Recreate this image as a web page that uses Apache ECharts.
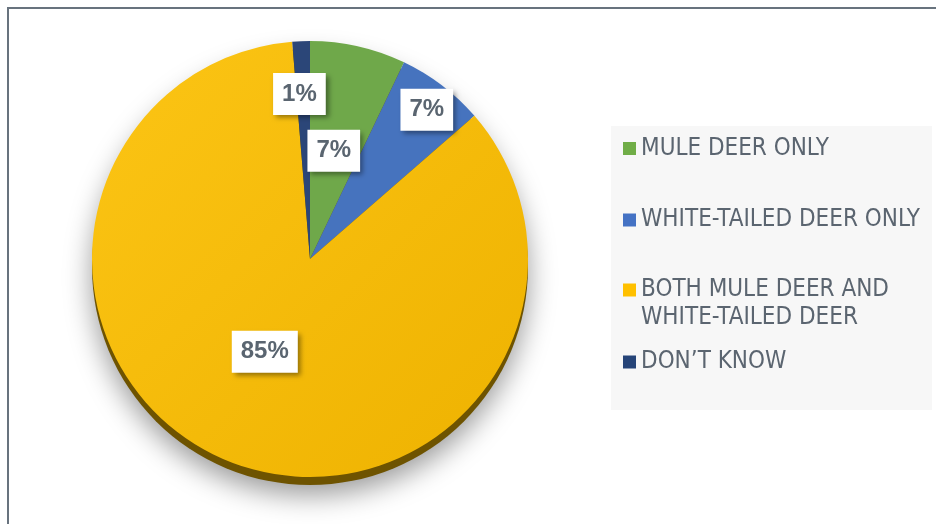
<!DOCTYPE html>
<html><head><meta charset="utf-8">
<script src="https://cdn.jsdelivr.net/npm/echarts@6/dist/echarts.min.js"></script>
<style>html,body{margin:0;padding:0;background:#fff}#c{width:936px;height:524px}</style>
</head><body><div id="c"></div>
<script>
// ---- data ----
const categories = ['MULE DEER ONLY', 'WHITE-TAILED DEER ONLY', 'BOTH MULE DEER AND\nWHITE-TAILED DEER', 'DON\u2019T KNOW'];
const values = [7.1, 6.5, 85.1, 1.3];

// ---- styles / layout ----
const legendColors = ['#70ad47', '#4472c4', '#ffc000', '#264478'];
const labelOffsets = [[-1, 1], [49, -60], [-3, -11], [-6, -53]];
const legendTops = [134.5, 206, 248, 348];
const CX = 310, CY = 259, R = 218;

const sliceColors = [
  '#6fa84a',
  '#4673be',
  new echarts.graphic.LinearGradient(0, 0, 1, 1, [
    { offset: 0, color: '#fcc515' }, { offset: 1, color: '#eeb200' }
  ]),
  '#2b4678'
];

const chart = echarts.init(document.getElementById('c'), null, { renderer: 'canvas' });

const legendText = {
  fontFamily: '"DejaVu Sans Condensed", "DejaVu Sans", sans-serif',
  fontSize: 24,
  lineHeight: 28,
  color: '#5b6570'
};

chart.setOption({
  animation: false,
  backgroundColor: '#ffffff',
  graphic: [
    { type: 'rect', silent: true, z: -1, shape: { x: 611, y: 126, width: 321, height: 284 }, style: { fill: '#f7f7f7' } },
    { type: 'polyline', silent: true, shape: { points: [[8, 524], [8, 8], [936, 8]] }, style: { stroke: '#68737e', lineWidth: 2, fill: null } }
  ],
  legend: categories.map((c, i) => ({
    data: [{ name: c, itemStyle: { color: legendColors[i] } }],
    left: 623,
    top: legendTops[i],
    padding: 0,
    orient: 'vertical',
    icon: 'rect',
    itemWidth: 13,
    itemHeight: 13,
    selectedMode: false,
    formatter: name => (name.indexOf('\n') >= 0 ? '\n' + name : name),
    textStyle: legendText
  })),
  series: [
    {
      type: 'pie',
      name: 'rim',
      silent: true,
      center: [CX, CY + 8],
      radius: R,
      startAngle: 90,
      z: 1,
      label: { show: false },
      labelLine: { show: false },
      data: [{
        value: 1, name: '__rim',
        itemStyle: { color: '#6e5300', shadowBlur: 28, shadowColor: 'rgba(0,0,0,0.4)', shadowOffsetY: 10 }
      }]
    },
    {
      type: 'pie',
      name: 'deer',
      center: [CX, CY],
      radius: R,
      startAngle: 90,
      clockwise: true,
      z: 2,
      labelLine: { show: false },
      label: {
        show: true,
        position: 'inside',
        formatter: p => Math.round(p.value) + '%',
        fontFamily: '"Liberation Sans", Arial, sans-serif',
        fontWeight: 'bold',
        fontSize: 24,
        lineHeight: 24,
        color: '#5a6570',
        backgroundColor: '#ffffff',
        padding: [9, 9],
        shadowColor: 'rgba(0,0,0,0.4)',
        shadowBlur: 5,
        shadowOffsetX: 3,
        shadowOffsetY: 3
      },
      emphasis: { disabled: true },
      data: categories.map((c, i) => ({
        name: c,
        value: values[i],
        itemStyle: { color: sliceColors[i] },
        label: { offset: labelOffsets[i] }
      }))
    }
  ]
});
</script>
</body></html>
